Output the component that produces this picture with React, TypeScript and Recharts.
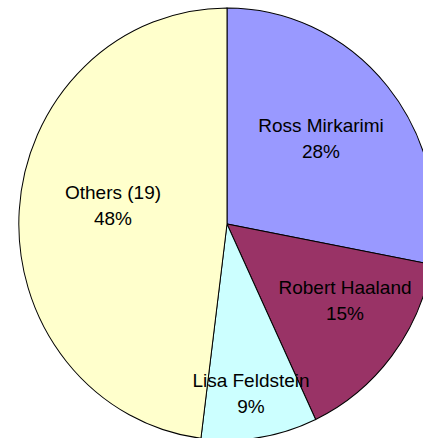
import React from 'react';
import { PieChart, Pie, Cell } from 'recharts';

const names = ['Ross Mirkarimi', 'Robert Haaland', 'Lisa Feldstein', 'Others (19)'];
const shares = [28, 15, 9, 48];

const COLORS = ['#9999FF', '#993366', '#CCFFFF', '#FFFFCC'];
// label block centre offsets from pie centre (px)
const LABEL_OFFSETS: number[][] = [
  [94, -86],
  [118, 76],
  [24, 169],
  [-114, -19],
];

const data = names.map((name, i) => ({ name, value: shares[i] }));

const FONT = '"Liberation Sans", Arial, Helvetica, sans-serif';

const renderLabel = (props: any) => {
  const { cx, cy, index, percent } = props;
  const [dx, dy] = LABEL_OFFSETS[index];
  const x = Number(cx) + dx;
  const y = Number(cy) + dy;
  return (
    <text textAnchor="middle" fontFamily={FONT} fontSize={19} fill="#000">
      <tspan x={x} y={y - 6}>{names[index]}</tspan>
      <tspan x={x} y={y + 20}>{Math.round(percent * 100)}%</tspan>
    </text>
  );
};

export default function App() {
  return (
    <div style={{ width: 423, height: 438, background: '#fff' }}>
      <style>{`body{margin:0;overflow:hidden;background:#fff}
.ell .recharts-pie-sector{transform:scale(0.982,1.019);transform-origin:227px 224px;}`}</style>
      <PieChart className="ell" width={423} height={438} margin={{ top: 0, right: 0, bottom: 0, left: 0 }}>
        <Pie
          data={data}
          dataKey="value"
          nameKey="name"
          cx={227}
          cy={224}
          outerRadius={212}
          startAngle={90}
          endAngle={-270}
          stroke="#000"
          strokeWidth={1}
          label={renderLabel}
          labelLine={false}
          isAnimationActive={false}
        >
          {data.map((d, i) => (
            <Cell key={d.name} fill={COLORS[i]} />
          ))}
        </Pie>
      </PieChart>
    </div>
  );
}
